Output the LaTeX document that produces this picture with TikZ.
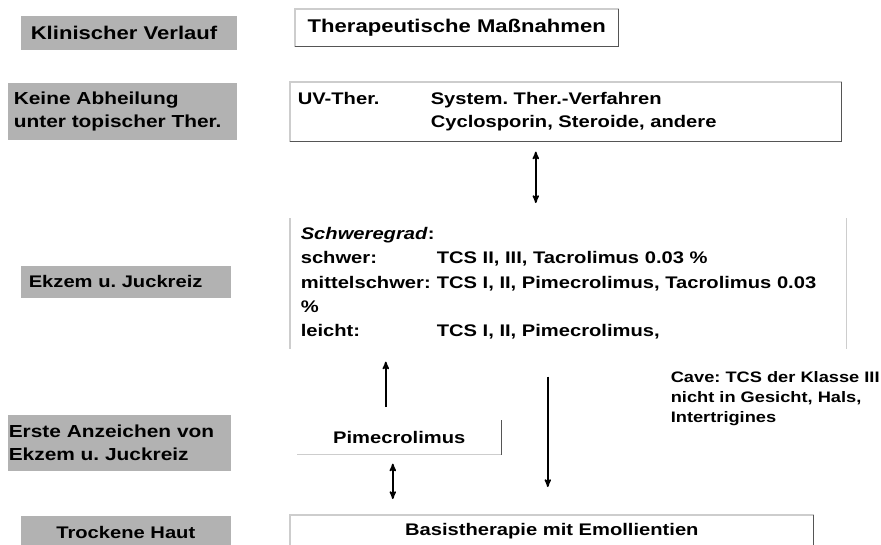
\documentclass[tikz,border=0pt]{standalone}
\usepackage{fontspec}
\setmainfont{Liberation Sans}[FakeStretch=1.2]
\usetikzlibrary{arrows}
\frenchspacing

\definecolor{stagegray}{RGB}{178,178,178}
\definecolor{rimlight}{RGB}{205,205,205}
\definecolor{rimdark}{RGB}{85,85,85}

\begin{document}
\begin{tikzpicture}[x=1pt,y=-1pt,>=stealth',line width=1.6pt,
    big/.style={font=\fontsize{18.4}{22}\selectfont\bfseries},
    mid/.style={font=\fontsize{17.4}{23}\selectfont\bfseries},
    std/.style={font=\fontsize{16.8}{23}\selectfont\bfseries},
    small/.style={font=\fontsize{15.2}{20}\selectfont\bfseries},
    stage/.style={fill=stagegray,anchor=north west,inner ysep=0pt,align=left},
    measure/.style={anchor=north west,inner ysep=0pt},
    rim/.style={draw=rimlight,line width=1.2pt},
    shade/.style={draw=rimdark,line width=1.2pt}]

  \useasboundingbox (0,0) rectangle (881,544);

  % clinical course
  \node[stage,big,minimum height=34pt,inner xsep=10pt,text width=196pt] (course) at (20,15) {Klinischer Verlauf};
  \node[stage,mid,minimum height=57pt,inner xsep=6pt,text width=217pt] (nohealing) at (7,82) {Keine Abheilung\\unter topischer Ther.};
  \node[stage,std,minimum height=32pt,inner xsep=8pt,text width=194pt] (eczema) at (20,265) {Ekzem u. Juckreiz};
  \node[stage,mid,minimum height=56pt,inner xsep=1pt,text width=221pt] (firstsigns) at (7,414) {Erste Anzeichen von\\Ekzem u. Juckreiz};
  \node[stage,std,minimum height=34pt,inner xsep=0pt,text width=210pt,align=center] (dryskin) at (20,515) {Trockene Haut};

  % therapy
  \node[measure,big,minimum width=322pt,minimum height=36pt,inner xsep=0pt] (measures) at (295,9) {Therapeutische Maßnahmen};
  \node[measure,std,minimum height=58pt,inner xsep=7pt,text width=536pt,align=left] (systemic) at (290,82)
    {\makebox[133pt][l]{UV-Ther.}System. Ther.-Verfahren\\
     \hspace*{133pt}Cyclosporin, Steroide, andere};
  \node[measure,minimum height=129pt,inner xsep=10pt,text width=535pt,align=left,
        font=\fontsize{16.8}{24.3}\selectfont\bfseries] (severity) at (290,218)
    {\makebox[136pt][l]{\textit{Schweregrad}:}\\
     \makebox[136pt][l]{schwer:}TCS II, III, Tacrolimus 0.03 \%\\
     \makebox[136pt][l]{mittelschwer:}TCS I, II, Pimecrolimus, Tacrolimus 0.03\\
     \%\\
     \makebox[136pt][l]{leicht:}TCS I, II, Pimecrolimus,};
  \node[measure,std,minimum width=203pt,minimum height=33pt,inner xsep=0pt] (pime) at (297,420) {Pimecrolimus};
  \node[measure,std,minimum width=522pt,minimum height=30pt,inner xsep=0pt] (basis) at (290,515) {Basistherapie mit Emollientien};
  \node[measure,small,inner sep=0pt,align=left] (cave) at (670,371) {Cave: TCS der Klasse III\\nicht in Gesicht, Hals,\\Intertrigines};

  % box edges
  \draw[rim] (measures.south west) |- (measures.north east);
  \draw[shade] (measures.north east) |- (measures.south west);
  \draw[rim] (systemic.south west) |- (systemic.north east);
  \draw[shade] (systemic.north east) |- (systemic.south west);
  \draw[rim] (severity.north west) -- (severity.south west)
             (severity.north east) -- (severity.south east);
  \draw[rim] (pime.south west) -- (pime.south east);
  \draw[shade] (pime.north east) -- (pime.south east);
  \draw[rim] (basis.south west) |- (basis.north east);
  \draw[shade] (basis.north east) -- (basis.south east);

  % arrows
  \draw[<->,shorten <=10pt,shorten >=15pt] ([xshift=-30pt]systemic.south) -- ([xshift=-32.5pt]severity.north);
  \draw[->,shorten <=13pt,shorten >=13pt] ([xshift=-13.5pt]pime.north) -- ([xshift=-182.5pt]severity.south);
  \draw[->,shorten <=28pt,shorten >=28pt] ([xshift=-20.5pt]severity.south) -- ([xshift=-4pt]basis.north);
  \draw[<->,shorten <=9pt,shorten >=16pt] ([xshift=-6.5pt]pime.south) -- ([xshift=-159pt]basis.north);

\end{tikzpicture}
\end{document}
